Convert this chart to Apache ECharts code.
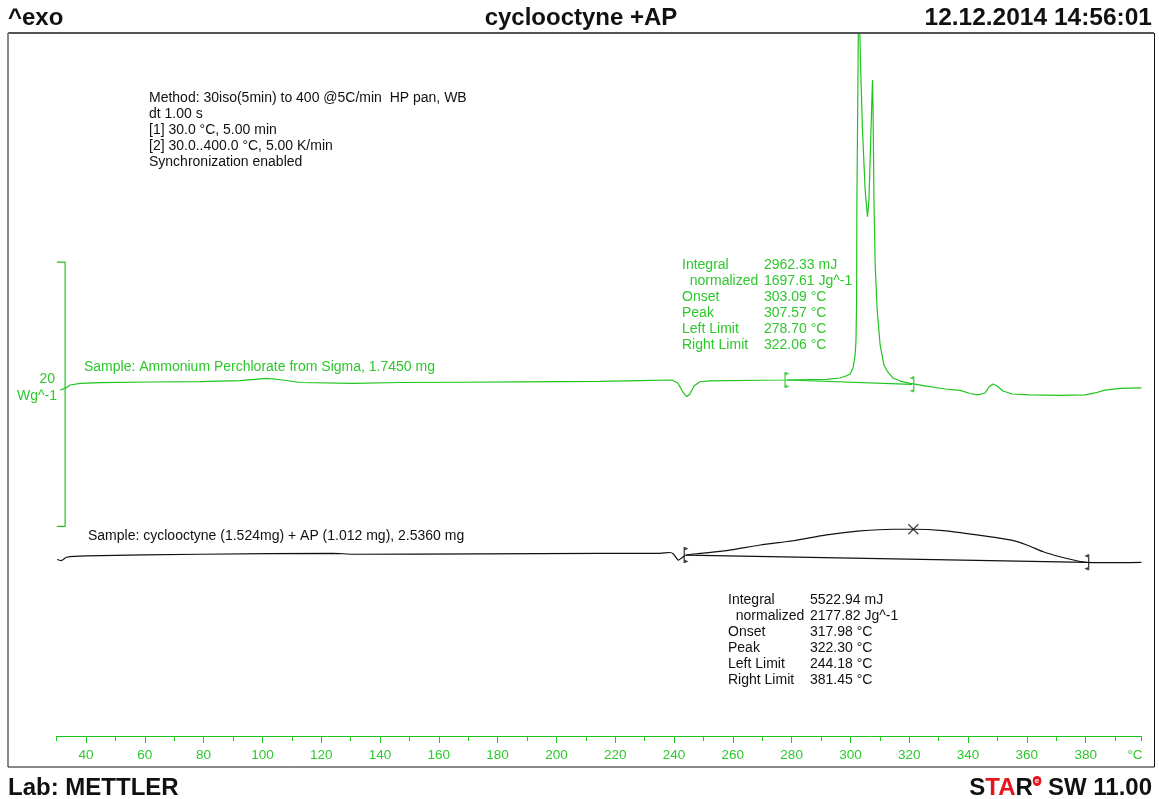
<!DOCTYPE html>
<html>
<head>
<meta charset="utf-8">
<title>cyclooctyne +AP</title>
<script src="https://cdn.jsdelivr.net/npm/echarts@6/dist/echarts.min.js"></script>
<style>
  html, body { margin: 0; padding: 0; background: #fff; }
  #main { width: 1159px; height: 799px; }
</style>
</head>
<body>
<div id="main"></div>
<script>
// temperature (°C) and heat flow (display units, Wg^-1 with curve offset)
var tempGreen = [31.2, 31.8, 33.2, 34.6, 38.0, 44.8, 61.8, 78.8, 92.4, 101.5, 107.0, 112.8, 130.8, 146.8, 167.2, 187.6,
  214.8, 228.4, 239.3, 241.3, 243.0, 244.3, 245.4, 246.8, 248.8, 252.2, 269.3, 278.3, 291.9, 296.5, 298.5, 299.9,
  300.9, 301.6, 301.9, 302.1, 302.2, 302.5, 302.8, 303.1, 303.4, 304.1, 305.0, 305.8, 306.3, 306.8, 307.2, 307.5,
  307.7, 308.0, 308.4, 309.1, 310.1, 311.4, 312.5, 314.5, 316.9, 320.3, 325.4, 332.2, 337.3, 340.7, 343.4, 345.8,
  347.1, 348.5, 349.9, 351.9, 355.0, 361.1, 371.3, 379.8, 383.2, 386.6, 391.7, 399.0];
var flowGreen = [26.32, 26.20, 26.48, 26.70, 26.83, 26.88, 26.93, 26.95, 27.04, 27.21, 27.08, 26.89, 26.83, 26.89, 26.91, 26.94,
  26.98, 27.04, 27.08, 26.85, 26.17, 25.82, 26.02, 26.63, 26.95, 27.02, 27.06, 27.08, 27.13, 27.23, 27.38, 27.53,
  27.99, 28.97, 30.11, 33.13, 40.70, 48.26, 57.34, 54.31, 51.29, 45.99, 41.45, 39.43, 40.70, 44.48, 47.50, 49.77,
  47.50, 40.70, 35.93, 32.38, 29.73, 28.21, 27.76, 27.23, 27.00, 26.82, 26.63, 26.40, 26.29, 26.06, 25.95, 26.10,
  26.55, 26.78, 26.63, 26.25, 26.02, 25.95, 25.91, 25.95, 26.10, 26.32, 26.44, 26.48];

var tempBlack = [30.2, 31.5, 33.4, 40.2, 78.8, 124.0, 130.8, 174.0, 214.8, 235.2, 238.6, 239.8, 241.5, 242.6, 244.1,
  248.8, 257.9, 269.3, 280.6, 291.9, 303.3, 314.6, 321.4, 331.6, 343.0, 354.3, 360.0, 365.6, 371.3, 377.0, 380.4,
  391.7, 399.0];
var flowBlack = [13.50, 13.42, 13.67, 13.77, 13.90, 13.97, 13.90, 13.92, 13.96, 13.97, 14.03, 13.92, 13.46, 13.62, 13.84,
  13.96, 14.17, 14.60, 14.92, 15.36, 15.66, 15.79, 15.79, 15.68, 15.36, 14.98, 14.60, 14.09, 13.71, 13.41, 13.29,
  13.26, 13.28];

// integration limits [left, right] as [temp, flow]
var limitsGreen = [[278.4, 27.08], [320.9, 26.75]];
var limitsBlack = [[244.1, 13.84], [380.4, 13.29]];
var peakBlack = [321.4, 15.79];

// scale bar: 20 Wg^-1
var scaleBar = [[30.1, 36], [32.9, 36], [32.9, 16], [30.1, 16]];

var majorTicks = [40, 60, 80, 100, 120, 140, 160, 180, 200, 220, 240, 260, 280, 300, 320, 340, 360, 380];
var minorTicks = [30, 50, 70, 90, 110, 130, 150, 170, 190, 210, 230, 250, 270, 290, 310, 330, 350, 370, 390, 399];

var methodLines = ['Method: 30iso(5min) to 400 @5C/min  HP pan, WB', 'dt 1.00 s', '[1] 30.0 °C, 5.00 min',
  '[2] 30.0..400.0 °C, 5.00 K/min', 'Synchronization enabled'];
var resultNames = ['Integral', '  normalized', 'Onset', 'Peak', 'Left Limit', 'Right Limit'];
var resultsGreen = ['2962.33 mJ', '1697.61 Jg^-1', '303.09 °C', '307.57 °C', '278.70 °C', '322.06 °C'];
var resultsBlack = ['5522.94 mJ', '2177.82 Jg^-1', '317.98 °C', '322.30 °C', '244.18 °C', '381.45 °C'];

var GREEN = '#1ec41e';
var GREEN_TXT = '#2cc82c';
var FONT = '"Liberation Sans", Arial, sans-serif';
var BODY = '14px ' + FONT;
var HEAD = 'bold 24px ' + FONT;

function zip(a, b) {
  return a.map(function (v, i) { return [v, b[i]]; });
}

// limit brackets: thin bar with two small flags
var leftMark = 'path://M0,0 L1.3,0 L1.3,16 L0,16 Z M1.3,0 L5,1.6 L1.3,3.2 Z M1.3,16 L5,14.4 L1.3,12.8 Z';
var rightMark = 'path://M3.7,0 L5,0 L5,16 L3.7,16 Z M3.7,0 L0,1.6 L3.7,3.2 Z M3.7,16 L0,14.4 L3.7,12.8 Z';
var crossMark = 'path://M0,0 L10,10 M10,0 L0,10';

var myChart = echarts.init(document.getElementById('main'));

var option = {
  animation: false,
  backgroundColor: '#fff',
  grid: { left: 56.6, right: 17.5, top: 33, bottom: 63 },
  xAxis: [{
    type: 'value', min: 30, max: 399, position: 'bottom',
    axisLine: { lineStyle: { color: GREEN, width: 1 } },
    axisTick: { customValues: majorTicks, length: 7, lineStyle: { color: GREEN } },
    axisLabel: { customValues: majorTicks, color: GREEN_TXT, fontSize: 13.5, fontFamily: FONT, margin: 12 },
    splitLine: { show: false }
  }, {
    type: 'value', min: 30, max: 399, position: 'bottom',
    axisLine: { show: false },
    axisTick: { customValues: minorTicks, length: 5, lineStyle: { color: GREEN } },
    axisLabel: { show: false },
    splitLine: { show: false }
  }],
  yAxis: { type: 'value', min: 0.15, max: 53.33, show: false },
  series: [{
    type: 'line', data: zip(tempGreen, flowGreen), showSymbol: false,
    lineStyle: { color: GREEN, width: 1.2 }, clip: true
  }, {
    type: 'line', data: limitsGreen, showSymbol: false,
    lineStyle: { color: GREEN, width: 1.2 }
  }, {
    type: 'line', data: zip(tempBlack, flowBlack), showSymbol: false, smooth: 0.25,
    lineStyle: { color: '#111', width: 1.2 }
  }, {
    type: 'line', data: limitsBlack, showSymbol: false,
    lineStyle: { color: '#111', width: 1.2 }
  }, {
    type: 'line', data: scaleBar, showSymbol: false,
    lineStyle: { color: GREEN, width: 1.2 }
  }, {
    type: 'scatter', symbolSize: [5, 16],
    data: [
      { value: limitsGreen[0], symbol: leftMark, itemStyle: { color: GREEN } },
      { value: limitsGreen[1], symbol: rightMark, itemStyle: { color: GREEN } },
      { value: limitsBlack[0], symbol: leftMark, itemStyle: { color: '#111' } },
      { value: limitsBlack[1], symbol: rightMark, itemStyle: { color: '#111' } }
    ]
  }, {
    type: 'scatter', symbol: crossMark, symbolSize: 10,
    data: [peakBlack],
    itemStyle: { color: 'none', borderColor: '#111', borderWidth: 1.2 }
  }],
  graphic: [
    // frame
    { type: 'line', shape: { x1: 8, y1: 33, x2: 1154, y2: 33 }, style: { stroke: '#555', lineWidth: 2 }, z: 10 },
    { type: 'line', shape: { x1: 8, y1: 33, x2: 8, y2: 767 }, style: { stroke: '#888', lineWidth: 2 }, z: 10 },
    { type: 'line', shape: { x1: 8, y1: 767, x2: 1154.5, y2: 767 }, style: { stroke: '#111', lineWidth: 1 }, z: 10 },
    { type: 'line', shape: { x1: 1154.5, y1: 33, x2: 1154.5, y2: 767 }, style: { stroke: '#111', lineWidth: 1 }, z: 10 },
    // header and footer
    { type: 'text', x: 8, y: 18, style: { text: '^exo', font: HEAD, fill: '#111', align: 'left', verticalAlign: 'middle' } },
    { type: 'text', x: 581, y: 18, style: { text: 'cyclooctyne +AP', font: HEAD, fill: '#111', align: 'center', verticalAlign: 'middle' } },
    { type: 'text', x: 1152, y: 18, style: { text: '12.12.2014 14:56:01', font: 'bold 24.5px ' + FONT, fill: '#111', align: 'right', verticalAlign: 'middle' } },
    { type: 'text', x: 8, y: 788, style: { text: 'Lab: METTLER', font: HEAD, fill: '#111', align: 'left', verticalAlign: 'middle' } },
    { type: 'text', x: 1152, y: 788, style: {
      text: '{b|S}{r|TA}{b|R}{e|e}{b| SW 11.00}',
      align: 'right', verticalAlign: 'middle',
      rich: {
        b: { font: HEAD, fill: '#111' },
        r: { font: HEAD, fill: '#e8141c' },
        e: { font: 'bold 8px ' + FONT, fill: '#fff', backgroundColor: '#e8141c', borderRadius: 5, padding: [1, 2, 1, 2], verticalAlign: 'top' }
      }
    } },
    // scale label
    { type: 'text', x: 55, y: 379, style: { text: '20', font: BODY, fill: GREEN_TXT, align: 'right', verticalAlign: 'middle' } },
    { type: 'text', x: 57, y: 396, style: { text: 'Wg^-1', font: BODY, fill: GREEN_TXT, align: 'right', verticalAlign: 'middle' } },
    // sample names
    { type: 'text', x: 84, y: 367, style: { text: 'Sample: Ammonium Perchlorate from Sigma, 1.7450 mg', font: BODY, fill: GREEN_TXT, align: 'left', verticalAlign: 'middle' } },
    { type: 'text', x: 88, y: 536, style: { text: 'Sample: cyclooctyne (1.524mg) + AP (1.012 mg), 2.5360 mg', font: BODY, fill: '#111', align: 'left', verticalAlign: 'middle' } },
    // method
    { type: 'text', x: 149, y: 90, style: { text: methodLines.join('\n'), font: BODY, lineHeight: 16, fill: '#111', align: 'left', verticalAlign: 'top' } },
    // results
    { type: 'text', x: 682, y: 257, style: { text: resultNames.join('\n'), font: BODY, lineHeight: 16, fill: GREEN_TXT, align: 'left', verticalAlign: 'top' } },
    { type: 'text', x: 764, y: 257, style: { text: resultsGreen.join('\n'), font: BODY, lineHeight: 16, fill: GREEN_TXT, align: 'left', verticalAlign: 'top' } },
    { type: 'text', x: 728, y: 592, style: { text: resultNames.join('\n'), font: BODY, lineHeight: 16, fill: '#111', align: 'left', verticalAlign: 'top' } },
    { type: 'text', x: 810, y: 592, style: { text: resultsBlack.join('\n'), font: BODY, lineHeight: 16, fill: '#111', align: 'left', verticalAlign: 'top' } },
    // unit label
    { type: 'text', x: 1135, y: 755, style: { text: '°C', font: '13.5px ' + FONT, fill: GREEN_TXT, align: 'center', verticalAlign: 'middle' } }
  ]
};

myChart.setOption(option);
</script>
</body>
</html>
